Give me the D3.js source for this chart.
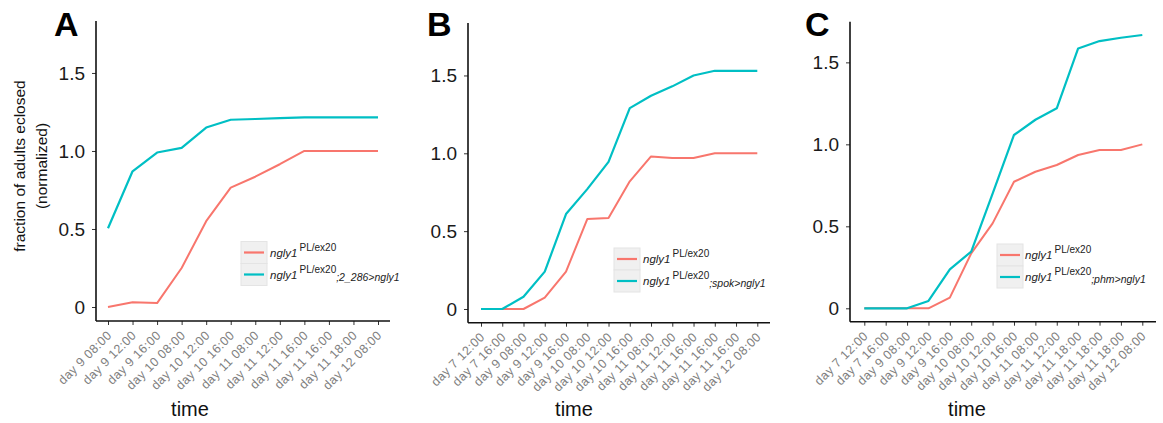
<!DOCTYPE html>
<html>
<head>
<meta charset="utf-8">
<script src="https://cdn.jsdelivr.net/npm/d3@7"></script>
<style>
  html, body { margin: 0; padding: 0; background: #fff; }
  svg { display: block; font-family: "Liberation Sans", Arial, Helvetica, sans-serif; }
</style>
</head>
<body>
<svg id="chart" width="1163" height="423"></svg>
<script>
// ---------- data ----------
const labelsA = ["day 9 08:00", "day 9 12:00", "day 9 16:00", "day 10 08:00", "day 10 12:00", "day 10 16:00",
                 "day 11 08:00", "day 11 12:00", "day 11 16:00", "day 11 16:00", "day 11 18:00", "day 12 08:00"];
const controlA = [0, 0.03, 0.025, 0.25, 0.55, 0.765, 0.835, 0.915, 1.0, 1.0, 1.0, 1.0];
const rescueA  = [0.505, 0.87, 0.99, 1.02, 1.15, 1.20, 1.205, 1.21, 1.215, 1.215, 1.215, 1.215];

const labelsB = ["day 7 12:00", "day 7 16:00", "day 9 08:00", "day 9 12:00", "day 9 16:00", "day 10 08:00", "day 10 12:00",
                 "day 10 16:00", "day 11 08:00", "day 11 12:00", "day 11 16:00", "day 11 16:00", "day 11 16:00", "day 12 08:00"];
const controlB = [0, 0, 0, 0.073, 0.24, 0.578, 0.585, 0.82, 0.98, 0.97, 0.97, 1.0, 1.0, 1.0];
const rescueB  = [0, 0, 0.079, 0.24, 0.61, 0.77, 0.945, 1.29, 1.37, 1.43, 1.50, 1.53, 1.53, 1.53];

const labelsC = ["day 7 12:00", "day 7 16:00", "day 9 08:00", "day 9 12:00", "day 9 16:00", "day 10 08:00", "day 10 12:00",
                 "day 10 16:00", "day 11 08:00", "day 11 12:00", "day 11 18:00", "day 11 18:00", "day 11 18:00", "day 12 08:00"];
const controlC = [0, 0, 0, 0, 0.065, 0.335, 0.518, 0.772, 0.833, 0.874, 0.935, 0.965, 0.965, 1.0];
const rescueC  = [0, 0, 0, 0.045, 0.238, 0.346, 0.70, 1.057, 1.15, 1.22, 1.585, 1.63, 1.65, 1.667];

const yTickValues = [0, 0.5, 1.0, 1.5];
const yTickLabels = ["0", "0.5", "1.0", "1.5"];

const legendMain = "ngly1";
const legendSup = "PL/ex20";
const legendSubA = ";2_286>ngly1";
const legendSubB = ";spok>ngly1";
const legendSubC = ";phm>ngly1";

const panelLetters = ["A", "B", "C"];
const xTitle = "time";
const yTitle1 = "fraction of adults eclosed";
const yTitle2 = "(normalized)";

const colControl = "#F8766D";
const colRescue = "#00BFC4";

// ---------- layout ----------
const panels = [
  { letter: panelLetters[0], labels: labelsA, control: controlA, rescue: rescueA, sub: legendSubA,
    axisX0: 96, axisX1: 390, firstX: 108, lastX: 378, yTop: 21, yBot: 321, yDom: [-0.0897, 1.833],
    letterX: 54, titleX: 190, legX: 241, legY: 241.5, legTextX: 270 },
  { letter: panelLetters[1], labels: labelsB, control: controlB, rescue: rescueB, sub: legendSubB,
    axisX0: 468, axisX1: 770, firstX: 481, lastX: 757.3, yTop: 23, yBot: 322.7, yDom: [-0.088, 1.837],
    letterX: 427, titleX: 574, legX: 614, legY: 248, legTextX: 643 },
  { letter: panelLetters[2], labels: labelsC, control: controlC, rescue: rescueC, sub: legendSubC,
    axisX0: 850, axisX1: 1156, firstX: 864.3, lastX: 1142.3, yTop: 21.7, yBot: 321.7, yDom: [-0.0817, 1.748],
    letterX: 805, titleX: 967, legX: 997, legY: 244, legTextX: 1025 }
];

const svg = d3.select("#chart");

// y-axis title (only left panel)
const yt = svg.append("g").attr("transform", "translate(0,166) rotate(-90)");
yt.append("text").attr("x", 0).attr("y", 25).attr("text-anchor", "middle")
  .attr("font-size", 15.5).attr("fill", "#111").text(yTitle1);
yt.append("text").attr("x", 0).attr("y", 47).attr("text-anchor", "middle")
  .attr("font-size", 15.5).attr("fill", "#111").text(yTitle2);

panels.forEach(p => {
  const g = svg.append("g");
  const idx = d3.range(p.labels.length);
  const x = d3.scalePoint().domain(idx).range([p.firstX, p.lastX]);
  const y = d3.scaleLinear().domain(p.yDom).range([p.yBot, p.yTop]);

  // panel letter
  g.append("text").attr("x", p.letterX).attr("y", 36).attr("font-size", 34)
    .attr("font-weight", "bold").attr("fill", "#000").text(p.letter);

  // lines
  const line = d3.line().x((d, i) => x(i)).y(d => y(d));
  g.append("path").datum(p.control).attr("d", line).attr("fill", "none")
    .attr("stroke", colControl).attr("stroke-width", 2).attr("stroke-linejoin", "round");
  g.append("path").datum(p.rescue).attr("d", line).attr("fill", "none")
    .attr("stroke", colRescue).attr("stroke-width", 2.2).attr("stroke-linejoin", "round");

  // y axis
  const ya = g.append("g").attr("transform", `translate(${p.axisX0},0)`)
    .call(d3.axisLeft(y).tickValues(yTickValues).tickFormat((d, i) => yTickLabels[i]).tickSize(4).tickPadding(7));
  ya.select(".domain").remove();
  ya.selectAll(".tick line").attr("stroke", "#333").attr("stroke-width", 1);
  ya.selectAll(".tick text").attr("font-size", 19).attr("fill", "#1a1a1a")
    .attr("font-family", "'Liberation Sans', Arial, sans-serif");

  // x axis
  const xa = g.append("g").attr("transform", `translate(0,${p.yBot})`)
    .call(d3.axisBottom(x).tickFormat(i => p.labels[i]).tickSize(4));
  xa.select(".domain").remove();
  xa.selectAll(".tick line").attr("stroke", "#333").attr("stroke-width", 1);
  xa.selectAll(".tick text")
    .attr("font-size", 12.5).attr("fill", "#808080")
    .attr("letter-spacing", 0.4)
    .attr("font-family", "'Liberation Sans', Arial, sans-serif")
    .attr("text-anchor", "end")
    .attr("y", 0).attr("dy", 0)
    .attr("transform", "translate(4,15) rotate(-45)");

  // axis lines
  g.append("line").attr("x1", p.axisX0).attr("x2", p.axisX0).attr("y1", p.yTop).attr("y2", p.yBot)
    .attr("stroke", "#111").attr("stroke-width", 1.6);
  g.append("line").attr("x1", p.axisX0).attr("x2", p.axisX1).attr("y1", p.yBot).attr("y2", p.yBot)
    .attr("stroke", "#111").attr("stroke-width", 1.6);

  // x title
  g.append("text").attr("x", p.titleX).attr("y", 416).attr("text-anchor", "middle")
    .attr("font-size", 20).attr("fill", "#111").text(xTitle);

  // legend
  const keyH = 22, keyW = 26;
  const entries = [
    { color: colControl, sub: "" },
    { color: colRescue, sub: p.sub }
  ];
  entries.forEach((e, k) => {
    const ky = p.legY + k * keyH;
    g.append("rect").attr("x", p.legX).attr("y", ky).attr("width", keyW).attr("height", keyH)
      .attr("fill", "#f0f0f0").attr("stroke", "#e4e4e4").attr("stroke-width", 1);
    g.append("line").attr("x1", p.legX + 3).attr("x2", p.legX + keyW - 3)
      .attr("y1", ky + keyH / 2).attr("y2", ky + keyH / 2)
      .attr("stroke", e.color).attr("stroke-width", 2.2);
    const t = g.append("text").attr("x", p.legTextX).attr("y", ky + keyH / 2 + 4)
      .attr("font-size", 11.5).attr("fill", "#222");
    t.append("tspan").attr("font-style", "italic").text(legendMain);
    t.append("tspan").attr("font-size", 10).attr("dx", 2).attr("dy", -6).text(legendSup);
    if (e.sub) {
      t.append("tspan").attr("font-size", 10.5).attr("font-style", "italic").attr("dy", 8).text(e.sub);
    }
  });
});
</script>
</body>
</html>
